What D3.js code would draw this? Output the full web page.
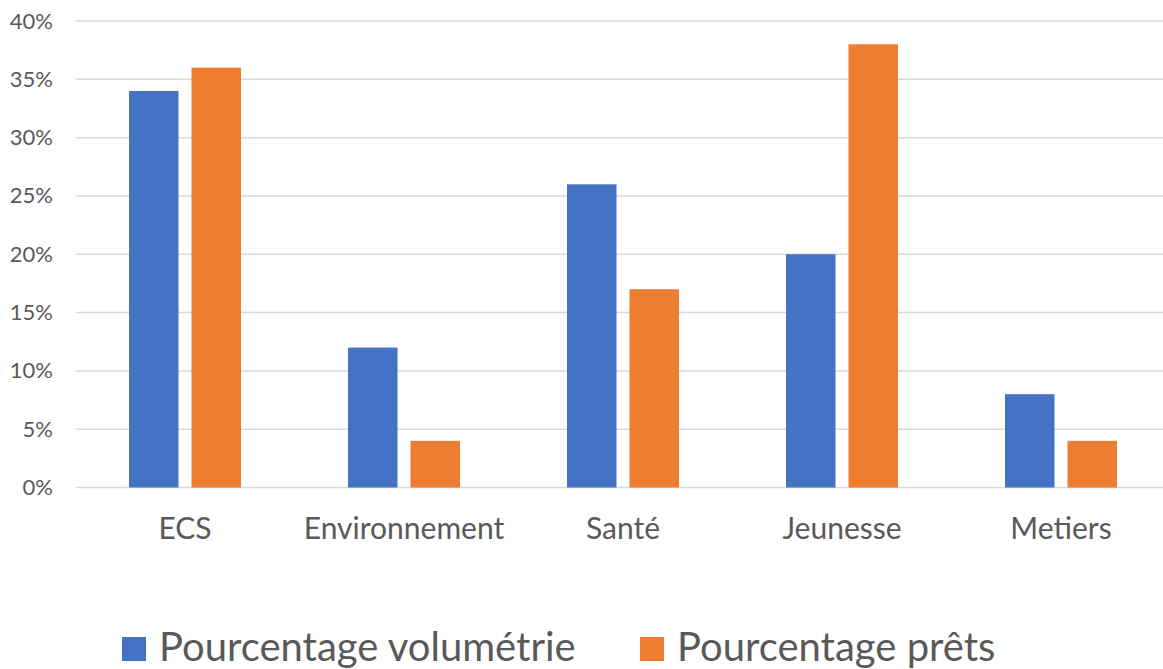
<!DOCTYPE html>
<html>
<head>
<meta charset="utf-8">
<script src="https://cdn.jsdelivr.net/npm/d3@7"></script>
<style>
  body { margin: 0; background: #fff; }
  text { font-family: Lato, "Noto Sans", sans-serif; fill: #595959; }
</style>
</head>
<body>
<div id="chart"></div>
<script>
// categories and series values (percent)
var categories = ["ECS", "Environnement", "Santé", "Jeunesse", "Metiers"];
var seriesNames = ["Pourcentage volumétrie", "Pourcentage prêts"];
var volumetrie = [34, 12, 26, 20, 8];
var prets = [36, 4, 17, 38, 4];
var yTicks = [0, 5, 10, 15, 20, 25, 30, 35, 40];
var colors = ["#4472C4", "#ED7D31"];

var width = 1163, height = 669;

var svg = d3.select("#chart")
  .append("svg")
  .attr("width", width)
  .attr("height", height);

svg.append("rect").attr("width", width).attr("height", height).attr("fill", "#fff");

// scales
var x0 = d3.scaleBand()
  .domain(categories)
  .range([75.5, 1170.5])
  .padding(0);

var x1 = d3.scaleBand()
  .domain(seriesNames)
  .range([53.5, 165.5])
  .paddingInner(0.208);

var y = d3.scaleLinear()
  .domain([0, 40])
  .range([487.5, 21]);

// gridlines
svg.append("g")
  .selectAll("line")
  .data(yTicks)
  .enter().append("line")
  .attr("x1", 76)
  .attr("x2", width)
  .attr("y1", function (d) { return y(d); })
  .attr("y2", function (d) { return y(d); })
  .attr("stroke", "#d9d9d9")
  .attr("stroke-width", 1.5);

// y axis labels
var yAxis = d3.axisLeft(y)
  .tickValues(yTicks)
  .tickSize(0)
  .tickPadding(0)
  .tickFormat(function (d) { return d + "%"; });

var yg = svg.append("g")
  .attr("transform", "translate(53,0)")
  .call(yAxis);
yg.select(".domain").remove();
yg.selectAll("text")
  .attr("font-family", null)
  .style("font-size", "22px")
  .attr("fill", "#595959");

// bars
var rows = categories.map(function (c, i) {
  return { cat: c, values: [volumetrie[i], prets[i]] };
});

var groups = svg.append("g")
  .selectAll("g")
  .data(rows)
  .enter().append("g")
  .attr("transform", function (d) { return "translate(" + x0(d.cat) + ",0)"; });

groups.selectAll("rect")
  .data(function (d) {
    return d.values.map(function (v, j) { return { name: seriesNames[j], value: v, j: j }; });
  })
  .enter().append("rect")
  .attr("x", function (d) { return x1(d.name); })
  .attr("width", x1.bandwidth())
  .attr("y", function (d) { return y(d.value); })
  .attr("height", function (d) { return y(0) - y(d.value); })
  .attr("fill", function (d) { return colors[d.j]; });

// x axis labels
var xAxis = d3.axisBottom(x0).tickSize(0).tickPadding(0);
var xg = svg.append("g")
  .attr("transform", "translate(0,518)")
  .call(xAxis);
xg.select(".domain").remove();
xg.selectAll("text")
  .attr("font-family", null)
  .attr("dy", "0.71em")
  .style("font-size", "30px")
  .attr("fill", "#595959");

// legend
var legendX = [122, 640];
var legend = svg.append("g")
  .selectAll("g")
  .data(seriesNames)
  .enter().append("g")
  .attr("transform", function (d, i) { return "translate(" + legendX[i] + ",637)"; });

legend.append("rect")
  .attr("width", 24)
  .attr("height", 24)
  .attr("fill", function (d, i) { return colors[i]; });

legend.append("text")
  .attr("x", 37)
  .attr("y", 24)
  .style("font-size", "40px")
  .text(function (d) { return d; });
</script>
</body>
</html>
